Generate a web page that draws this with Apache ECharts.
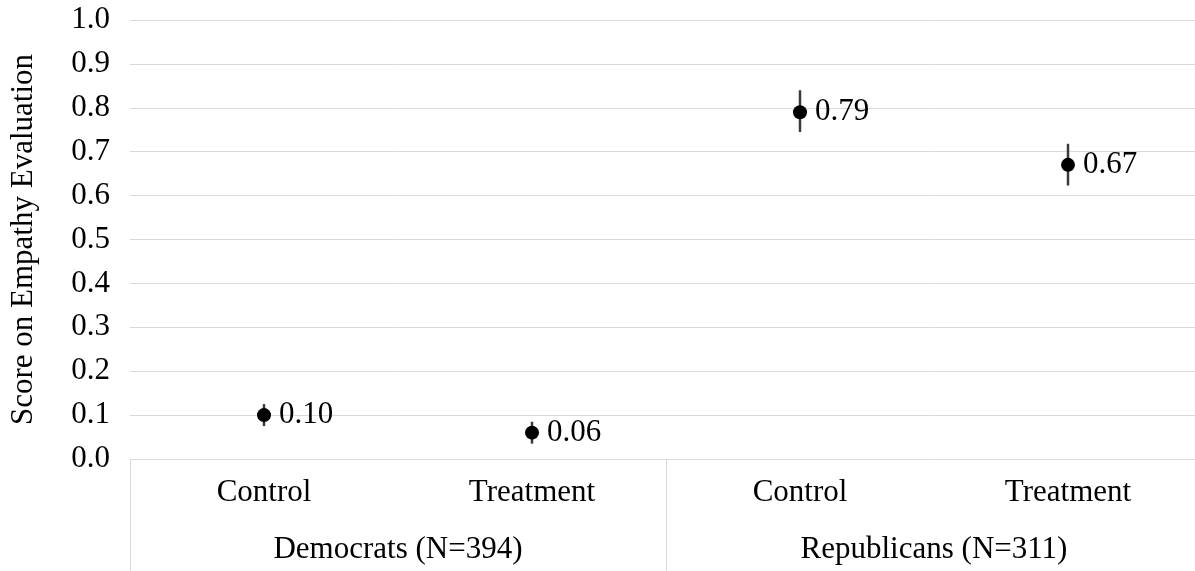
<!DOCTYPE html>
<html>
<head>
<meta charset="utf-8">
<script src="https://cdn.jsdelivr.net/npm/echarts@6/dist/echarts.min.js"></script>
<style>
  html, body { margin: 0; padding: 0; background: #fff; }
  #chart { width: 1195px; height: 571px; }
</style>
</head>
<body>
<div id="chart"></div>
<script>
// Conditions within each party group
const conditions = ['Control', 'Treatment', 'Control', 'Treatment'];
const groups = ['Democrats (N=394)', 'Republicans (N=311)'];
// Mean scores with lower/upper bounds of the interval
const means = [0.10, 0.06, 0.79, 0.67];
const lower = [0.075, 0.035, 0.745, 0.623];
const upper = [0.125, 0.085, 0.840, 0.718];
const yTicks = [0, 0.1, 0.2, 0.3, 0.4, 0.5, 0.6, 0.7, 0.8, 0.9, 1.0];

const FONT = "'Liberation Serif', 'Times New Roman', serif";
const chart = echarts.init(document.getElementById('chart'));

chart.setOption({
  animation: false,
  backgroundColor: '#fff',
  // plot runs slightly past the right edge of the canvas
  grid: {
    left: 130, width: 1072, top: 20, height: 439,
    containLabel: false, outerBoundsMode: 'none'
  },
  xAxis: [
    {
      type: 'category',
      data: conditions,
      position: 'bottom',
      axisLine: { show: true, lineStyle: { color: '#d9d9d9', width: 1 } },
      axisTick: { show: false },
      axisLabel: { color: '#000', fontFamily: FONT, fontSize: 31, margin: 18, interval: 0 },
      splitLine: { show: false }
    },
    {
      type: 'category',
      data: groups,
      position: 'bottom',
      axisLine: { show: false },
      axisTick: { show: true, length: 112, interval: 0, lineStyle: { color: '#d9d9d9', width: 1 } },
      axisLabel: { color: '#000', fontFamily: FONT, fontSize: 31, margin: 75, interval: 0 },
      splitLine: { show: false }
    }
  ],
  yAxis: {
    type: 'value',
    min: yTicks[0],
    max: yTicks[yTicks.length - 1],
    interval: 0.1,
    name: 'Score on Empathy Evaluation',
    nameLocation: 'middle',
    nameGap: 91,
    nameTextStyle: { color: '#000', fontFamily: FONT, fontSize: 31 },
    axisLine: { show: false },
    axisTick: { show: false },
    axisLabel: {
      color: '#000', fontFamily: FONT, fontSize: 31, margin: 20,
      formatter: v => v.toFixed(1)
    },
    splitLine: { lineStyle: { color: '#d9d9d9', width: 1 } }
  },
  series: [
    {
      // vertical interval bars
      type: 'custom',
      xAxisIndex: 0,
      data: conditions.map((c, i) => [i, lower[i], upper[i]]),
      renderItem: (params, api) => {
        const lo = api.coord([api.value(0), api.value(1)]);
        const hi = api.coord([api.value(0), api.value(2)]);
        return {
          type: 'line',
          shape: { x1: lo[0], y1: lo[1], x2: hi[0], y2: hi[1] },
          style: { stroke: '#3a3a3a', lineWidth: 2.5 }
        };
      },
      z: 2
    },
    {
      type: 'scatter',
      xAxisIndex: 0,
      data: means.map((m, i) => [i, m]),
      symbol: 'circle',
      symbolSize: 14,
      itemStyle: { color: '#000', opacity: 1 },
      label: {
        show: true,
        position: 'right',
        distance: 8,
        color: '#000',
        fontFamily: FONT,
        fontSize: 31,
        formatter: p => p.value[1].toFixed(2)
      },
      z: 3
    }
  ]
});
</script>
</body>
</html>
